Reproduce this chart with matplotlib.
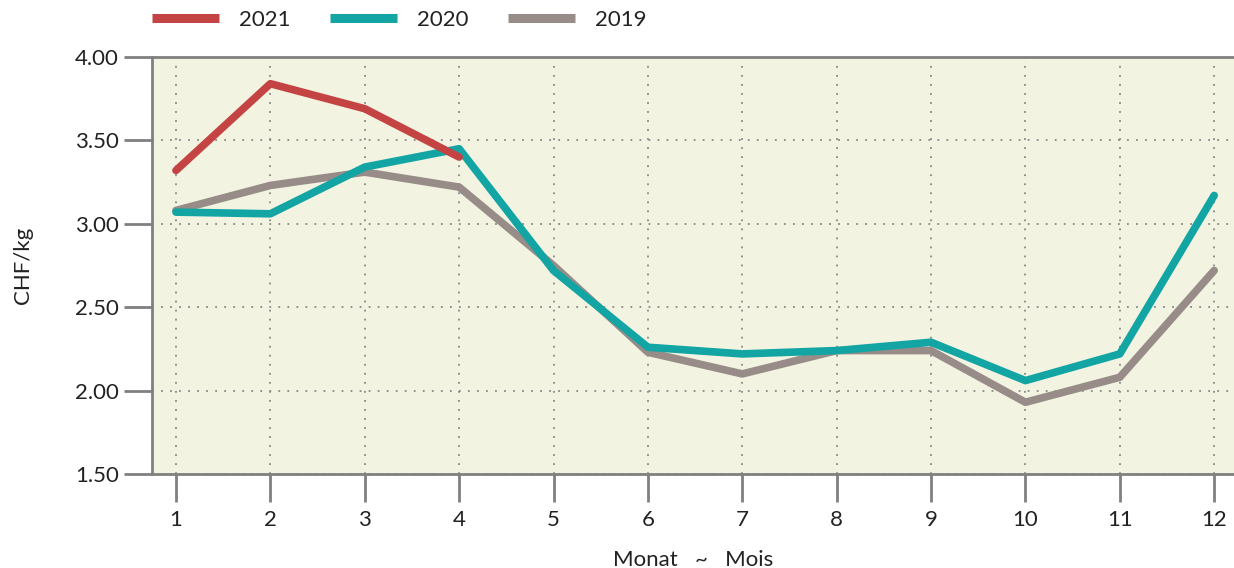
import numpy as np
import matplotlib
matplotlib.use("Agg")
import matplotlib.pyplot as plt

months = [1, 2, 3, 4, 5, 6, 7, 8, 9, 10, 11, 12]
y2021 = [3.32, 3.84, 3.69, 3.40]
y2020 = [3.07, 3.06, 3.34, 3.45, 2.72, 2.26, 2.22, 2.24, 2.29, 2.06, 2.22, 3.17]
y2019 = [3.08, 3.23, 3.31, 3.22, 2.75, 2.23, 2.10, 2.24, 2.24, 1.93, 2.08, 2.72]
yticks = [1.5, 2.0, 2.5, 3.0, 3.5, 4.0]

plt.rcParams['font.family'] = ['Lato', 'DejaVu Sans']
txt = '#222222'
spine = '#808080'

fig = plt.figure(figsize=(12.34, 5.68), dpi=100)
ax = fig.add_axes([152 / 1234, 1 - 474 / 568, 1 - 152 / 1234, (474 - 57) / 568])
ax.set_facecolor('#f3f3e2')

l21, = ax.plot(months[:len(y2021)], y2021, color='#c44444', lw=5.5, solid_capstyle='round', zorder=4)
l20, = ax.plot(months, y2020, color='#12a5a3', lw=5.5, solid_capstyle='round', zorder=3)
l19, = ax.plot(months, y2019, color='#978c88', lw=5.5, solid_capstyle='round', zorder=2)

ax.set_xlim(0.746, 12.21)
ax.set_ylim(1.5, 4.0)
ax.set_xticks(months)
ax.set_yticks(yticks)
ax.set_yticklabels([f'{v:.2f}' for v in yticks])
ax.grid(True, color='#888888', linestyle=(0, (1, 4)), linewidth=1.3)
ax.set_axisbelow(True)

for s in ['left', 'bottom', 'top']:
    ax.spines[s].set_color(spine)
    ax.spines[s].set_linewidth(2)
ax.spines['right'].set_visible(False)
ax.tick_params(axis='y', length=20, width=2, color=spine, labelsize=16, labelcolor=txt, pad=4)
ax.tick_params(axis='x', length=20, width=2, color=spine, labelsize=16, labelcolor=txt, pad=6)

ax.set_xlabel('Monat   ~   Mois', fontsize=16, color=txt, labelpad=14)
ax.set_ylabel('CHF/kg', fontsize=16, color=txt, labelpad=30)

fig.legend([l21, l20, l19], ['2021', '2020', '2019'], loc='center left',
           bbox_to_anchor=(152 / 1234, 1 - 20 / 568), ncol=3, frameon=False,
           fontsize=16, handlelength=3.0, columnspacing=1.8, handletextpad=0.9,
           borderpad=0, borderaxespad=0, labelcolor=txt)
for h in fig.legends[0].get_lines():
    h.set_solid_capstyle('butt')
    h.set_linewidth(6.5)

fig.savefig('out.png', dpi=100)
